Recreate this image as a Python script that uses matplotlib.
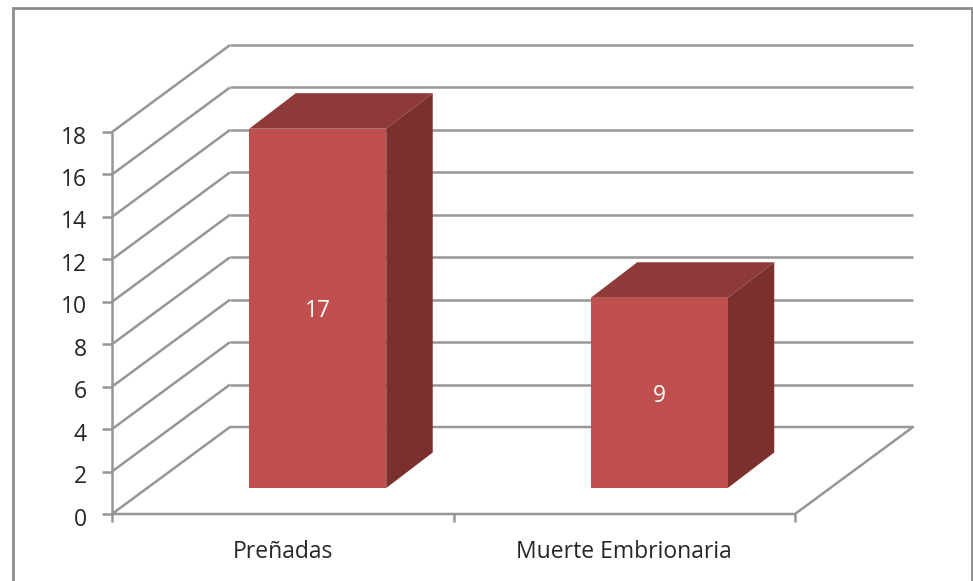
import matplotlib
matplotlib.use("Agg")
import matplotlib.pyplot as plt
from matplotlib.patches import Polygon

# Chart data
categories = ["Preñadas", "Muerte Embrionaria"]
values = [17, 9]
y_ticks = [0, 2, 4, 6, 8, 10, 12, 14, 16, 18]

GRID = "#969696"
FACE = "#c0504d"
TOP = "#8e3a38"
SIDE = "#7c302e"
TEXT = "#262626"

plt.rcParams["font.family"] = ["Open Sans", "DejaVu Sans"]

W, H = 973, 581
fig = plt.figure(figsize=(W / 100, H / 100), dpi=100, facecolor="white")
ax = fig.add_axes([0, 0, 1, 1])
ax.axis("off")

# One category is 341.5 px wide and one value unit 21.2 px tall on the front plane,
# so the axes run in category / value units across the whole figure
cat_px = 341.5
val_px = 21.22
x0_px, y0_px = 112, 514
ax.set_xlim(-x0_px / cat_px, (W - x0_px) / cat_px)
ax.set_ylim(-(H - y0_px) / val_px, y0_px / val_px)

# Depth of the 3D box, and of the bars inside it
depth_x = 118 / cat_px
depth_y = 87 / val_px
bar_dx = 35 / cat_px
bar_dy = 26 / val_px
bar_w = 137 / cat_px
bar_ox = 46.5 / cat_px
bar_oy = 35.5 / val_px
bar_scale = 0.996

n = len(categories)
ymax = y_ticks[-1]
line = dict(color=GRID, lw=1.8, solid_capstyle="butt", zorder=1)

# Back wall grid lines and side wall diagonals
for v in y_ticks:
    if v > 0:
        ax.plot([depth_x, n + depth_x], [v + depth_y, v + depth_y], **line)
        ax.plot([0, depth_x], [v, v + depth_y], **line)
    else:
        ax.plot([0, depth_x, n + depth_x, n, 0],
                [0, depth_y, depth_y, 0, 0], **line)

# Axis lines and tick marks
ax.plot([0, 0], [0, ymax], **line)
for v in y_ticks:
    ax.plot([-10 / cat_px, 0], [v, v], **line)
    ax.text(-25 / cat_px, v - 2.5 / val_px, str(v), ha="right", va="center_baseline",
            fontsize=16.5, color=TEXT)
for i in range(n + 1):
    ax.plot([i, i], [0, -8 / val_px], **line)

# Bars: front, top and side faces
for i, (cat, val) in enumerate(zip(categories, values)):
    left = i + 0.5 - bar_w / 2 + bar_dx
    right = left + bar_w
    bottom = bar_dy
    top = bar_dy + val * bar_scale
    ax.add_patch(Polygon([(left, bottom), (right, bottom), (right, top), (left, top)],
                         fc=FACE, ec="none", zorder=4))
    ax.add_patch(Polygon([(left, top), (right, top), (right + bar_ox, top + bar_oy),
                          (left + bar_ox, top + bar_oy)],
                         fc=TOP, ec="none", zorder=3))
    ax.add_patch(Polygon([(right, bottom), (right + bar_ox, bottom + bar_oy),
                          (right + bar_ox, top + bar_oy), (right, top)],
                         fc=SIDE, ec="none", zorder=3))
    ax.text((left + right) / 2, bottom + val / 2 - 3.5 / val_px, str(val),
            ha="center", va="center", fontsize=16.5, color="white", zorder=5)
    ax.text(i + 0.5, -38 / val_px, cat, ha="center", va="center",
            fontsize=16.5, color=TEXT)

# Chart frame, runs past the bottom of the picture
ax.plot([12.5 / W, 12.5 / W, 972 / W, 972 / W], [0, 1 - 8 / H, 1 - 8 / H, 0],
        transform=ax.transAxes, color="#8c8c8c", lw=2, solid_joinstyle="miter", clip_on=False)

fig.savefig("out.png", dpi=100)
plt.close(fig)
